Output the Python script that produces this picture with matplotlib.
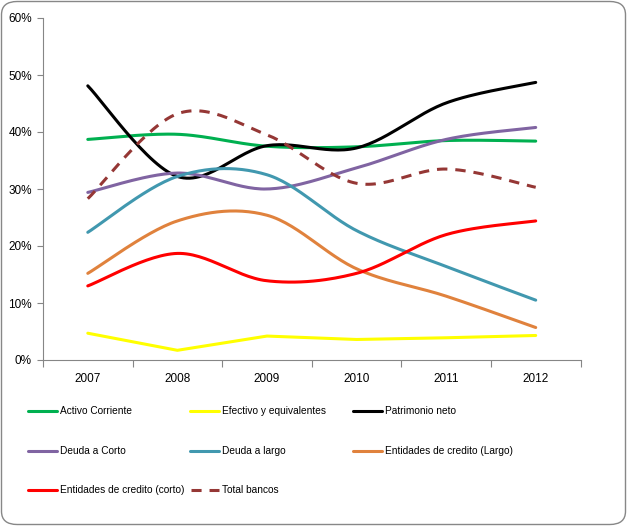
import numpy as np
import matplotlib.pyplot as plt
from matplotlib.lines import Line2D
from matplotlib.patches import FancyBboxPatch

years = ['2007', '2008', '2009', '2010', '2011', '2012']

activo_corriente = [38.7, 39.6, 37.5, 37.4, 38.5, 38.4]
efectivo = [4.7, 1.7, 4.2, 3.6, 3.9, 4.3]
patrimonio = [48.1, 32.2, 37.6, 37.2, 45.1, 48.7]
deuda_corto = [29.4, 32.8, 30.0, 33.7, 38.7, 40.8]
deuda_largo = [22.4, 32.2, 32.5, 22.7, 16.4, 10.5]
ent_largo = [15.2, 24.4, 25.4, 16.0, 11.2, 5.7]
ent_corto = [13.0, 18.7, 13.9, 15.2, 22.0, 24.4]
total_bancos = [28.3, 43.2, 39.5, 31.0, 33.5, 30.3]

# name, values, colour, style, smoothed
series = [
    ('Activo Corriente', activo_corriente, '#00B050', '-', True),
    ('Efectivo y equivalentes', efectivo, '#FFFF00', '-', False),
    ('Patrimonio neto', patrimonio, '#000000', '-', True),
    ('Deuda a Corto', deuda_corto, '#8064A2', '-', True),
    ('Deuda a largo', deuda_largo, '#4198AF', '-', True),
    ('Entidades de credito (Largo)', ent_largo, '#E0823D', '-', True),
    ('Entidades de credito (corto)', ent_corto, '#FF0000', '-', True),
    ('Total bancos', total_bancos, '#953735', '--', True),
]


def smooth(x, y, n=30):
    # excel-like smoothing: bezier segments with catmull-rom tangents
    x = np.asarray(x, float)
    y = np.asarray(y, float)
    px = np.concatenate([[x[0]], x, [x[-1]]])
    py = np.concatenate([[y[0]], y, [y[-1]]])
    t = np.linspace(0, 1, n)
    xs, ys = [], []
    for i in range(len(x) - 1):
        p0 = np.array([px[i + 1], py[i + 1]])
        p3 = np.array([px[i + 2], py[i + 2]])
        c1 = p0 + (np.array([px[i + 2], py[i + 2]]) - np.array([px[i], py[i]])) / 6
        c2 = p3 - (np.array([px[i + 3], py[i + 3]]) - np.array([px[i + 1], py[i + 1]])) / 6
        b = ((1 - t) ** 3)[:, None] * p0 + (3 * (1 - t) ** 2 * t)[:, None] * c1 \
            + (3 * (1 - t) * t ** 2)[:, None] * c2 + (t ** 3)[:, None] * p3
        xs.extend(b[:, 0])
        ys.extend(b[:, 1])
    return np.array(xs), np.array(ys)


plt.rcParams['font.family'] = ['Liberation Sans', 'DejaVu Sans']

W, H = 627, 526
fig = plt.figure(figsize=(W / 100, H / 100), dpi=100)
fig.patches.append(FancyBboxPatch((1.5 / W, 1.5 / H), (W - 3) / W, (H - 3) / H,
                                  boxstyle='round,pad=0,rounding_size=0.025',
                                  transform=fig.transFigure, fc='white',
                                  ec='#878787', lw=1.0, zorder=-5))

ax = fig.add_axes([43 / W, (H - 360) / H, (580.5 - 43) / W, (360 - 18) / H])
ax.set_zorder(2)
ax.patch.set_alpha(0)

xpos = np.arange(len(years))
for name, vals, col, ls, sm in series:
    if sm:
        sx, sy = smooth(xpos, vals)
    else:
        sx, sy = xpos, vals
    if ls == '--':
        ax.plot(sx, sy, color=col, lw=2.2, ls=(0, (3.4, 2.6)), solid_capstyle='butt')
    else:
        ax.plot(sx, sy, color=col, lw=2.2, solid_capstyle='round')

ax.set_xlim(-0.5, len(years) - 0.5)
ax.set_ylim(0, 60)
ax.set_yticks(np.arange(0, 61, 10))
ax.set_yticklabels(['%d%%' % v for v in range(0, 61, 10)])
ax.set_xticks(np.arange(-0.5, len(years), 1.0))
ax.set_xticklabels([])
ax.set_xticks(xpos, minor=True)
ax.set_xticklabels(years, minor=True)
ax.tick_params(axis='x', which='minor', length=0, pad=9, labelsize=8.5)
ax.tick_params(axis='x', which='major', length=5, color='#868686', direction='out')
ax.tick_params(axis='y', length=4, color='#868686', labelsize=8.5, pad=4)
for s in ['top', 'right']:
    ax.spines[s].set_visible(False)
for s in ['left', 'bottom']:
    ax.spines[s].set_color('#868686')

# legend, three columns
col_x = [28, 190, 353]
row_y = [411, 451, 490]
for i, (name, vals, col, ls, sm) in enumerate(series):
    x0 = col_x[i % 3]
    y0 = row_y[i // 3]
    yy = (H - y0) / H
    if ls == '--':
        fig.add_artist(Line2D([(x0 + 1) / W, (x0 + 29) / W], [yy, yy], color=col, lw=2.2,
                              ls=(0, (3.3, 2.6)), transform=fig.transFigure))
    else:
        fig.add_artist(Line2D([x0 / W, (x0 + 29) / W], [yy, yy], color=col, lw=2.2,
                              solid_capstyle='round', transform=fig.transFigure))
    fig.text((x0 + 32) / W, yy, name, fontsize=7.3, va='center', ha='left')

fig.savefig('out.png', dpi=100)
